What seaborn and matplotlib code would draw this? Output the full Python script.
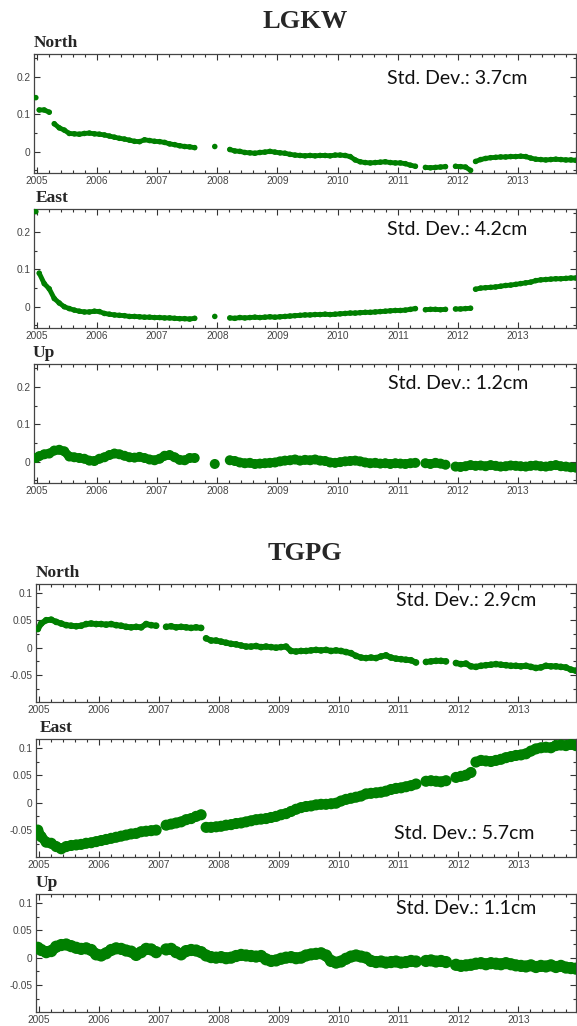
import numpy as np
import matplotlib
matplotlib.use("Agg")
import matplotlib.pyplot as plt
import seaborn as sns
from matplotlib.ticker import MultipleLocator, FuncFormatter

nan = np.nan

# sample times: first epoch (end of Dec 2004), then mid-month Jan 2005 .. Dec 2013
t = np.concatenate([[2004.985], 2005 + (np.arange(108) + 0.5) / 12.0])

# ---- LGKW (m) ----
lgkw_north = [0.145,
    0.112, 0.112, 0.106, 0.075, 0.064, 0.058, 0.049, 0.048, 0.047, 0.049, 0.050, 0.048,
    0.047, 0.045, 0.042, 0.039, 0.036, 0.034, 0.031, 0.028, 0.027, 0.032, 0.030, 0.028,
    0.027, 0.025, 0.021, 0.019, 0.016, 0.014, 0.013, 0.011, nan, nan, nan, 0.014,
    nan, nan, 0.006, 0.002, 0.001, -0.002, -0.003, -0.004, -0.002, -0.001, 0.001, -0.001,
    -0.003, -0.004, -0.007, -0.009, -0.010, -0.011, -0.010, -0.011, -0.010, -0.010, -0.011, -0.009,
    -0.009, -0.010, -0.013, -0.022, -0.027, -0.029, -0.030, -0.029, -0.028, -0.027, -0.029, -0.030,
    -0.030, -0.032, -0.036, -0.039, nan, -0.042, -0.043, -0.042, -0.041, -0.040, nan, -0.039,
    -0.040, -0.041, -0.050, -0.026, -0.021, -0.018, -0.016, -0.015, -0.014, -0.014, -0.013, -0.013,
    -0.012, -0.013, -0.017, -0.020, -0.021, -0.022, -0.021, -0.020, -0.021, -0.022, -0.022, -0.023]

lgkw_east = [0.255,
    0.090, 0.062, 0.048, 0.022, 0.010, 0.000, -0.005, -0.009, -0.012, -0.014, -0.014, -0.012,
    -0.013, -0.018, -0.020, -0.022, -0.023, -0.024, -0.026, -0.026, -0.027, -0.028, -0.028, -0.029,
    -0.029, -0.030, -0.030, -0.031, -0.032, -0.032, -0.033, -0.031, nan, nan, nan, -0.026,
    nan, nan, -0.030, -0.031, -0.029, -0.030, -0.029, -0.028, -0.029, -0.028, -0.027, -0.028,
    -0.027, -0.026, -0.025, -0.024, -0.023, -0.022, -0.022, -0.021, -0.021, -0.020, -0.021, -0.020,
    -0.019, -0.018, -0.017, -0.017, -0.016, -0.015, -0.015, -0.014, -0.013, -0.012, -0.011, -0.010,
    -0.010, -0.009, -0.007, -0.005, nan, -0.008, -0.007, -0.007, -0.008, -0.007, nan, -0.006,
    -0.006, -0.005, -0.004, 0.047, 0.050, 0.051, 0.052, 0.053, 0.055, 0.057, 0.058, 0.060,
    0.062, 0.064, 0.066, 0.070, 0.072, 0.073, 0.074, 0.075, 0.075, 0.076, 0.077, 0.077]

lgkw_up = [0.010,
    0.015, 0.020, 0.022, 0.030, 0.032, 0.028, 0.014, 0.012, 0.010, 0.008, 0.003, 0.002,
    0.008, 0.012, 0.018, 0.022, 0.020, 0.016, 0.012, 0.011, 0.013, 0.010, 0.006, 0.004,
    0.008, 0.016, 0.018, 0.012, 0.005, 0.004, 0.010, 0.010, nan, nan, nan, -0.006,
    nan, nan, 0.004, 0.002, -0.002, -0.004, -0.003, -0.006, -0.005, -0.004, -0.003, -0.002,
    0.001, 0.003, 0.004, 0.006, 0.003, 0.005, 0.004, 0.006, 0.003, 0.002, -0.002, -0.003,
    -0.001, 0.001, 0.002, 0.003, 0.001, -0.002, -0.004, -0.003, -0.005, -0.004, -0.006, -0.004,
    -0.005, -0.006, -0.004, -0.003, nan, -0.004, -0.006, -0.003, -0.005, -0.008, nan, -0.013,
    -0.014, -0.012, -0.009, -0.011, -0.010, -0.012, -0.009, -0.011, -0.013, -0.012, -0.010, -0.011,
    -0.012, -0.013, -0.011, -0.010, -0.012, -0.013, -0.011, -0.009, -0.012, -0.013, -0.015, -0.016]

# ---- TGPG (m) ----
tgpg_north = [0.034,
    0.044, 0.050, 0.051, 0.047, 0.044, 0.041, 0.040, 0.039, 0.040, 0.043, 0.044, 0.043,
    0.043, 0.042, 0.043, 0.041, 0.040, 0.038, 0.037, 0.038, 0.037, 0.043, 0.041, 0.040,
    nan, 0.038, 0.039, 0.037, 0.038, 0.037, 0.036, 0.037, 0.036, 0.017, 0.013, 0.013,
    0.011, 0.009, 0.007, 0.006, 0.004, 0.002, 0.002, 0.003, 0.001, 0.002, 0.001, 0.000,
    0.001, 0.002, -0.006, -0.007, -0.006, -0.006, -0.005, -0.004, -0.005, -0.004, -0.006, -0.005,
    -0.006, -0.008, -0.010, -0.015, -0.018, -0.019, -0.018, -0.019, -0.016, -0.014, -0.018, -0.020,
    -0.021, -0.022, -0.023, -0.027, nan, -0.026, -0.025, -0.024, -0.024, -0.025, nan, -0.028,
    -0.030, -0.029, -0.034, -0.035, -0.033, -0.032, -0.031, -0.030, -0.031, -0.032, -0.033, -0.033,
    -0.034, -0.033, -0.035, -0.037, -0.036, -0.033, -0.034, -0.034, -0.035, -0.036, -0.040, -0.042]

tgpg_east = [-0.050,
    -0.062, -0.072, -0.074, -0.080, -0.084, -0.080, -0.078, -0.077, -0.076, -0.074, -0.073, -0.071,
    -0.069, -0.067, -0.065, -0.063, -0.061, -0.059, -0.057, -0.056, -0.053, -0.052, -0.051, -0.050,
    nan, -0.041, -0.039, -0.037, -0.035, -0.031, -0.029, -0.025, -0.022, -0.045, -0.045, -0.044,
    -0.043, -0.041, -0.040, -0.038, -0.037, -0.035, -0.033, -0.031, -0.030, -0.029, -0.027, -0.025,
    -0.022, -0.020, -0.016, -0.012, -0.009, -0.007, -0.006, -0.004, -0.003, -0.003, -0.002, -0.001,
    0.003, 0.006, 0.008, 0.010, 0.012, 0.016, 0.017, 0.018, 0.019, 0.021, 0.024, 0.026,
    0.027, 0.029, 0.031, 0.034, nan, 0.039, 0.040, 0.039, 0.038, 0.040, nan, 0.046,
    0.048, 0.050, 0.055, 0.074, 0.077, 0.076, 0.075, 0.077, 0.079, 0.082, 0.084, 0.086,
    0.087, 0.089, 0.094, 0.098, 0.100, 0.101, 0.100, 0.104, 0.105, 0.104, 0.106, 0.104]

tgpg_up = [0.018,
    0.014, 0.010, 0.012, 0.020, 0.023, 0.024, 0.021, 0.018, 0.016, 0.017, 0.014, 0.006,
    0.004, 0.008, 0.014, 0.017, 0.016, 0.013, 0.011, 0.005, 0.010, 0.016, 0.015, 0.010,
    nan, 0.015, 0.016, 0.010, 0.006, 0.012, 0.014, 0.013, 0.010, 0.004, 0.001, 0.000,
    0.001, -0.001, 0.000, 0.003, 0.005, 0.004, 0.003, 0.002, 0.003, -0.003, -0.006, -0.005,
    -0.002, 0.000, 0.001, -0.001, 0.000, 0.004, 0.006, 0.007, 0.008, 0.004, -0.006, -0.009,
    -0.007, -0.002, 0.002, 0.004, 0.002, 0.000, -0.006, -0.008, -0.007, -0.009, -0.008, -0.007,
    -0.009, -0.008, -0.006, -0.007, nan, -0.006, -0.005, -0.007, -0.006, -0.008, nan, -0.013,
    -0.015, -0.014, -0.013, -0.011, -0.010, -0.012, -0.010, -0.011, -0.012, -0.010, -0.012, -0.014,
    -0.015, -0.016, -0.014, -0.017, -0.015, -0.016, -0.014, -0.017, -0.015, -0.018, -0.019, -0.020]

# offsets / jumps in the series (year), lines are not joined across them
lgkw_steps = [[2005.0, 2005.25, 2012.25], [2005.0, 2012.25], []]
tgpg_steps = [[2007.75], [2007.75, 2012.25], []]

stations = ["LGKW", "TGPG"]
components = ["North", "East", "Up"]
std_labels = {"LGKW": ["3.7cm", "4.2cm", "1.2cm"], "TGPG": ["2.9cm", "5.7cm", "1.1cm"]}
series = {"LGKW": [lgkw_north, lgkw_east, lgkw_up], "TGPG": [tgpg_north, tgpg_east, tgpg_up]}
steps = {"LGKW": lgkw_steps, "TGPG": tgpg_steps}

GREEN = "#007f00"
W, H = 577, 1026

sns.set_theme(style="ticks")
plt.rcParams["font.family"] = ["Liberation Sans", "DejaVu Sans"]
plt.rcParams["axes.unicode_minus"] = False

fig = plt.figure(figsize=(W / 100, H / 100), dpi=100)

# layout in pixels (left, top of each panel, height), std text pos in axes fraction, band width px
layout = {
    "LGKW": dict(left=34, tops=[54, 209, 364], h=119, title_y=22,
                 ylim=(-0.057, 0.262), major=0.1, minor=0.05,
                 lab_x=[34, 36, 33],
                 std_pos=[(0.780, 0.798), (0.780, 0.824), (0.782, 0.832)],
                 band=[5, 5, 9]),
    "TGPG": dict(left=36, tops=[584, 739, 894], h=118, title_y=553,
                 ylim=(-0.099, 0.116), major=0.05, minor=0.025,
                 lab_x=[36, 40, 36],
                 std_pos=[(0.796, 0.864), (0.793, 0.203), (0.796, 0.881)],
                 band=[6, 10, 11]),
}

fmt = FuncFormatter(lambda v, p: "0" if abs(v) < 1e-9 else f"{v:g}")

for st in stations:
    cfg = layout[st]
    fig.text(305 / W, 1 - cfg["title_y"] / H, st, ha="center", va="center",
             fontsize=19, fontweight="bold", family="Liberation Serif")
    for i, comp in enumerate(components):
        top = cfg["tops"][i]
        ax = fig.add_axes([cfg["left"] / W, 1 - (top + cfg["h"]) / H,
                           (576 - cfg["left"]) / W, cfg["h"] / H])
        vals = np.array(series[st][i], dtype=float)
        band = cfg["band"][i]

        # break the line at the offsets
        tl, vl = t.copy(), vals.copy()
        for s in sorted(steps[st][i], reverse=True):
            k = np.searchsorted(tl, s)
            tl = np.insert(tl, k, s)
            vl = np.insert(vl, k, nan)
        ax.plot(tl, vl, color=GREEN, lw=band * 0.7, solid_capstyle="round", zorder=2)
        sns.scatterplot(x=t, y=vals, ax=ax, color=GREEN, s=(band * 0.8) ** 2,
                        edgecolor="none", linewidth=0, zorder=3, legend=False)

        ax.set_xlim(2004.955, 2013.96)
        ax.set_ylim(*cfg["ylim"])
        ax.xaxis.set_major_locator(MultipleLocator(1))
        ax.xaxis.set_minor_locator(MultipleLocator(0.2))
        ax.yaxis.set_major_locator(MultipleLocator(cfg["major"]))
        ax.yaxis.set_minor_locator(MultipleLocator(cfg["minor"]))
        ax.xaxis.set_major_formatter(FuncFormatter(lambda v, p: f"{int(round(v))}"))
        ax.yaxis.set_major_formatter(fmt)
        ax.tick_params(which="both", direction="in", bottom=True, left=True, top=True, right=True,
                       color="#333333", width=0.8)
        ax.tick_params(which="major", length=4, labelsize=7.3, labelcolor="#444444", pad=2.5)
        ax.tick_params(which="minor", length=2)
        for s in ax.spines.values():
            s.set_visible(True)
            s.set_color("#444444")
            s.set_linewidth(0.9)
        ax.set_xlabel("")
        ax.set_ylabel("")

        fig.text(cfg["lab_x"][i] / W, 1 - (top - 3) / H, comp, ha="left", va="bottom",
                 fontsize=12.5, fontweight="bold", family="Liberation Serif")
        sx, sy = cfg["std_pos"][i]
        ax.text(sx, sy, f"Std. Dev.: {std_labels[st][i]}", transform=ax.transAxes,
                ha="center", va="center", fontsize=14, family="Lato", color="#111111")

fig.savefig("out.png", dpi=100)
